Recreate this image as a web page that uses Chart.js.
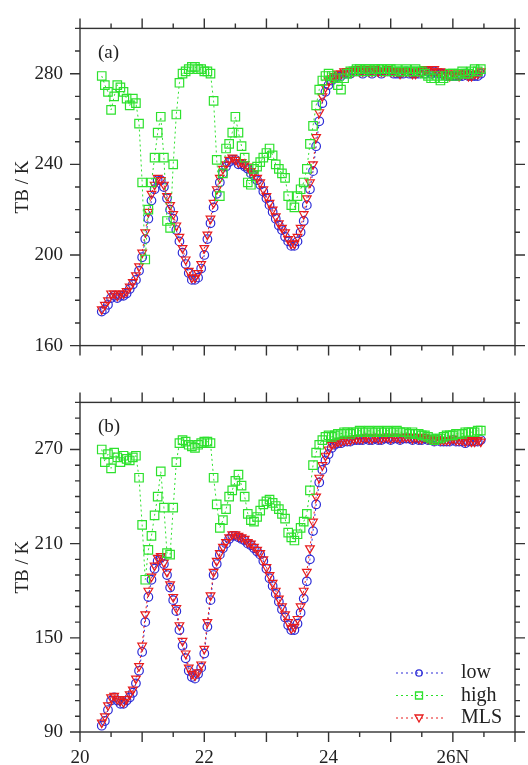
<!DOCTYPE html>
<html>
<head>
<meta charset="utf-8">
<script src="https://cdn.jsdelivr.net/npm/chart.js@4.4.1/dist/chart.umd.min.js"></script>
<style>
  body { margin: 0; background: #fff; }
  #wrap { position: relative; width: 528px; height: 765px; }
  canvas { position: absolute; left: 0; }
  #panelA { top: 0; }
  #panelB { top: 374px; }
</style>
</head>
<body>
<div id="wrap">
  <canvas id="panelA" width="528" height="374"></canvas>
  <canvas id="panelB" width="528" height="391"></canvas>
</div>
<script>
// latitude of every sample (deg N)
const lat = [
  20.35,20.40,20.45,20.50,20.55,20.60,20.65,20.70,20.75,20.80,
  20.85,20.90,20.95,21.00,21.05,21.10,21.15,21.20,21.25,21.30,
  21.35,21.40,21.45,21.50,21.55,21.60,21.65,21.70,21.75,21.80,
  21.85,21.90,21.95,22.00,22.05,22.10,22.15,22.20,22.25,22.30,
  22.35,22.40,22.45,22.50,22.55,22.60,22.65,22.70,22.75,22.80,
  22.85,22.90,22.95,23.00,23.05,23.10,23.15,23.20,23.25,23.30,
  23.35,23.40,23.45,23.50,23.55,23.60,23.65,23.70,23.75,23.80,
  23.85,23.90,23.95,24.00,24.05,24.10,24.15,24.20,24.25,24.30,
  24.35,24.40,24.45,24.50,24.55,24.60,24.65,24.70,24.75,24.80,
  24.85,24.90,24.95,25.00,25.05,25.10,25.15,25.20,25.25,25.30,
  25.35,25.40,25.45,25.50,25.55,25.60,25.65,25.70,25.75,25.80,
  25.85,25.90,25.95,26.00,26.05,26.10,26.15,26.20,26.25,26.30,
  26.35,26.40,26.45
];

// panel (a)
const lowA = [
  175,176,178,181,182,181,182,182,183,185,
  187,189,193,199,207,216,224,229,233,233,
  230,225,220,216,211,206,201,196,192,189,
  189,190,194,200,207,214,221,227,232,236,
  239,241,242,242,240,240,239,238,236,235,
  233,231,228,225,222,219,216,213,211,208,
  206,204,204,206,210,215,222,229,237,248,
  259,267,272,275,277,278,279,279,280,280,
  280,281,281,281,280,281,281,280,281,281,
  280,281,281,281,280,280,280,280,281,280,
  280,280,280,281,280,281,280,281,280,280,
  280,279,279,279,279,279,279,280,279,279,
  279,279,280
];
const highA = [
  279,275,272,264,270,275,274,272,269,266,
  269,267,258,232,198,220,232,243,254,261,
  243,215,212,240,262,276,280,281,282,283,
  283,282,282,281,281,280,268,242,226,236,
  247,249,254,261,254,248,243,232,231,238,
  239,241,243,245,247,244,240,238,236,234,
  226,222,221,226,229,232,238,249,257,266,
  273,277,279,280,279,278,275,273,278,280,
  281,281,282,282,281,282,282,281,282,282,
  282,281,282,282,281,282,281,281,282,281,
  281,282,281,281,280,279,278,278,279,277,
  278,279,280,280,279,280,281,280,280,281,
  282,281,282
];
const mlsA = [
  176,178,180,183,183,182,183,183,184,186,
  188,191,195,201,210,219,227,231,234,233,
  231,226,222,218,213,208,203,198,193,190,
  190,192,196,203,209,216,223,229,234,238,
  240,242,243,242,241,241,240,239,237,236,
  234,232,229,226,223,220,217,214,212,210,
  207,205,205,208,212,218,225,232,240,252,
  263,270,274,277,278,279,280,280,281,281,
  281,281,282,281,281,282,281,281,282,281,
  281,281,282,281,281,281,280,281,281,281,
  280,280,281,281,282,282,281,282,281,281,
  280,280,279,280,280,279,280,280,279,279,
  280,280,281
];

// panel (b)
const lowB = [
  94,97,104,110,112,110,108,108,110,112,
  115,121,129,141,160,176,187,194,199,201,
  197,190,182,174,167,155,145,137,129,125,
  124,127,131,140,157,174,190,197,203,207,
  210,213,215,215,214,213,212,210,209,207,
  205,203,199,194,188,183,178,173,168,163,
  158,155,155,159,166,175,186,200,218,235,
  249,257,263,267,271,273,274,274,275,275,
  275,276,276,276,276,277,276,276,277,276,
  276,277,277,276,277,277,276,277,277,277,
  276,277,276,276,277,276,276,275,276,275,
  275,275,275,276,275,275,275,274,275,275,
  275,275,276
];
const highB = [
  270,262,267,258,268,265,262,266,264,263,
  265,266,252,222,187,206,215,228,240,256,
  233,204,203,233,262,274,276,275,273,272,
  271,273,274,275,275,274,252,235,220,225,
  232,240,244,250,254,247,240,229,225,224,
  227,231,235,237,238,236,234,232,229,226,
  217,214,212,216,220,224,229,244,260,268,
  273,276,278,279,278,279,280,280,281,281,
  280,281,281,282,281,281,282,281,281,282,
  281,281,282,281,281,282,281,281,281,280,
  281,280,280,279,279,278,277,276,277,277,
  278,279,279,279,280,280,280,281,281,281,
  281,282,282
];
const mlsB = [
  96,100,107,112,113,111,110,109,111,114,
  117,124,132,145,165,180,189,196,201,202,
  198,192,184,176,169,158,148,140,131,127,
  126,128,133,143,160,177,192,199,204,208,
  211,214,216,216,215,214,213,211,210,208,
  206,204,200,195,190,185,180,175,170,165,
  160,156,157,162,170,180,192,207,224,240,
  252,260,266,270,273,274,275,275,276,276,
  276,277,277,277,277,278,277,277,278,277,
  277,278,278,277,278,278,277,278,278,278,
  277,278,277,277,278,277,277,276,277,276,
  276,276,276,277,276,276,276,275,276,275,
  275,276,275
];

const seriesNames = ["low", "high", "MLS"];
const xTicks = [20, 22, 24, 26];
const xTickLabels = ["20", "22", "24", "26N"];
const yTicksA = [160, 200, 240, 280];
const yTicksB = [90, 150, 210, 270];

const FONT = '"Liberation Serif", "Times New Roman", Times, serif';
const INK = "#222";
const BLUE = "rgb(45,45,215)";
const GREEN = "rgb(45,225,45)";
const RED = "rgb(232,28,28)";

const styles = [
  { color: BLUE, pointStyle: "circle", radius: 4.3, rotation: 0, order: 3 },
  { color: GREEN, pointStyle: "rect", radius: 6, rotation: 0, order: 1 },
  { color: RED, pointStyle: "triangle", radius: 5, rotation: 180, order: 2 },
];

const toPoints = (vals) => lat.map((x, i) => ({ x, y: vals[i] }));

const makeDataset = (i, vals) => ({
  label: seriesNames[i],
  data: toPoints(vals),
  order: styles[i].order,
  borderColor: styles[i].color,
  borderWidth: 1,
  borderDash: [2, 3],
  fill: false,
  tension: 0,
  pointStyle: styles[i].pointStyle,
  pointRadius: styles[i].radius,
  pointRotation: styles[i].rotation,
  pointBorderColor: styles[i].color,
  pointBackgroundColor: "rgba(0,0,0,0)",
  pointBorderWidth: 1.2,
});

// small legend marker, drawn by hand
const drawMarker = (ctx, style, x, y) => {
  ctx.beginPath();
  if (style.pointStyle === "circle") {
    ctx.arc(x, y, 3.2, 0, Math.PI * 2);
  } else if (style.pointStyle === "rect") {
    ctx.rect(x - 3.5, y - 3.5, 7, 7);
  } else {
    ctx.moveTo(x - 4, y - 3);
    ctx.lineTo(x + 4, y - 3);
    ctx.lineTo(x, y + 4);
    ctx.closePath();
  }
  ctx.stroke();
};

const framePlugin = {
  id: "frame",
  afterDraw(chart, args, opts) {
    const { ctx, chartArea: a, scales } = chart;
    const x = scales.x, y = scales.y;
    ctx.save();
    ctx.strokeStyle = "#333";
    ctx.lineWidth = 1.4;
    ctx.setLineDash([]);
    ctx.strokeRect(a.left, a.top, a.right - a.left, a.bottom - a.top);

    ctx.beginPath();
    const nx = Math.round((x.max - x.min) * 2);
    for (let i = 0; i <= nx; i++) {
      const px = x.getPixelForValue(x.min + i / 2);
      const len = i % 2 ? 5 : 10;
      ctx.moveTo(px, a.top - len); ctx.lineTo(px, a.top);
      ctx.moveTo(px, a.bottom); ctx.lineTo(px, a.bottom + len);
    }
    for (let v = y.min; v <= y.max; v += 10) {
      const py = y.getPixelForValue(v);
      const len = opts.major.includes(v) ? 10 : 5;
      ctx.moveTo(a.left - len, py); ctx.lineTo(a.left, py);
      ctx.moveTo(a.right, py); ctx.lineTo(a.right + len, py);
    }
    ctx.stroke();

    ctx.fillStyle = INK;
    ctx.font = "19px " + FONT;
    ctx.textBaseline = "middle";
    ctx.textAlign = "left";
    ctx.fillText(opts.tag, a.left + 18, a.top + 25);

    if (opts.legend) {
      ctx.font = "20px " + FONT;
      styles.forEach((s, i) => {
        const ly = a.bottom - 59 + i * 22.5;
        ctx.strokeStyle = s.color;
        ctx.lineWidth = 1;
        ctx.setLineDash([2, 3]);
        ctx.beginPath();
        ctx.moveTo(396, ly); ctx.lineTo(444, ly);
        ctx.stroke();
        ctx.setLineDash([]);
        ctx.lineWidth = 1.3;
        drawMarker(ctx, s, 419, ly);
        ctx.fillStyle = INK;
        ctx.fillText(seriesNames[i], 461, ly);
      });
    }
    ctx.restore();
  },
};

const makePanel = (id, low, high, mls, yMin, yTicks, tag, showX, xHeight, padTop, legend) =>
  new Chart(document.getElementById(id), {
    type: "line",
    data: {
      datasets: [makeDataset(0, low), makeDataset(1, high), makeDataset(2, mls)],
    },
    options: {
      responsive: false,
      animation: false,
      devicePixelRatio: 1,
      layout: { padding: { top: padTop, right: 13, left: 0, bottom: 0 } },
      plugins: {
        legend: { display: false },
        tooltip: { enabled: false },
        frame: { tag, major: yTicks, legend },
      },
      scales: {
        x: {
          type: "linear",
          min: 20,
          max: 27,
          grid: { display: false, drawTicks: false },
          border: { display: false },
          afterBuildTicks: (s) => { s.ticks = xTicks.map((v) => ({ value: v })); },
          afterFit: (s) => { s.height = xHeight; },
          ticks: {
            display: showX,
            autoSkip: false,
            maxRotation: 0,
            padding: 15,
            color: INK,
            font: { family: FONT, size: 19 },
            callback: (v) => xTickLabels[xTicks.indexOf(v)],
          },
        },
        y: {
          min: yMin,
          max: 300,
          grid: { display: false, drawTicks: false },
          border: { display: false },
          afterBuildTicks: (s) => { s.ticks = yTicks.map((v) => ({ value: v })); },
          afterFit: (s) => { s.width = 80; },
          title: {
            display: true,
            text: "TB / K",
            color: INK,
            font: { family: FONT, size: 19 },
            padding: { top: 12, bottom: 0 },
          },
          ticks: {
            padding: 17,
            color: INK,
            font: { family: FONT, size: 19 },
          },
        },
      },
    },
    plugins: [framePlugin],
  });

makePanel("panelA", lowA, highA, mlsA, 160, yTicksA, "(a)", false, 12, 15, false);
makePanel("panelB", lowB, highB, mlsB, 90, yTicksB, "(b)", true, 33, 11, true);
</script>
</body>
</html>
